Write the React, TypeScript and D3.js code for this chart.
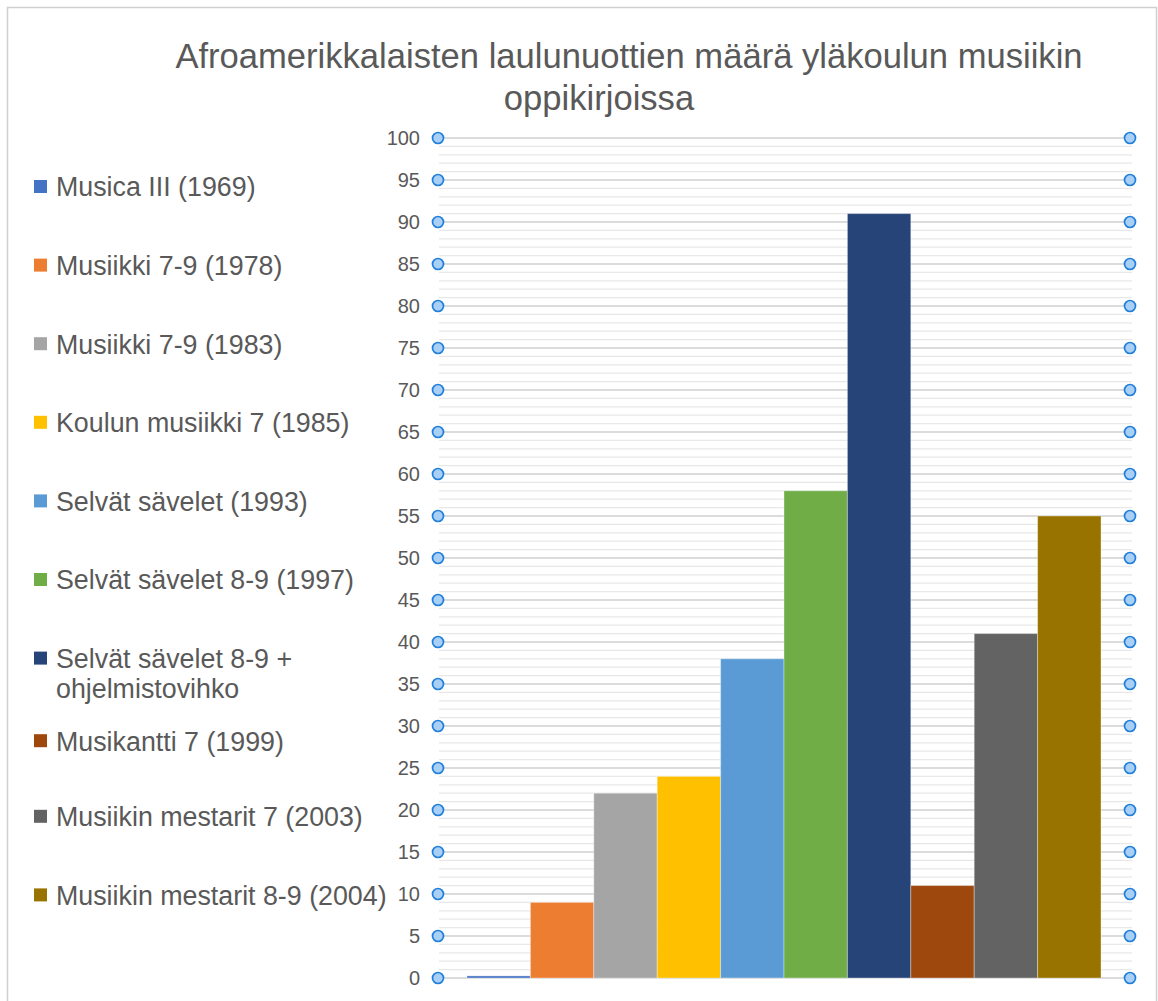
import * as d3 from "d3";

const books = [
  "Musica III (1969)",
  "Musiikki 7-9 (1978)",
  "Musiikki 7-9 (1983)",
  "Koulun musiikki 7 (1985)",
  "Selvät sävelet (1993)",
  "Selvät sävelet 8-9 (1997)",
  "Selvät sävelet 8-9 + ohjelmistovihko",
  "Musikantti 7 (1999)",
  "Musiikin mestarit 7 (2003)",
  "Musiikin mestarit 8-9 (2004)",
];
const counts = [0.25, 9, 22, 24, 38, 58, 91, 11, 41, 55];
const colors = [
  "#4472C4", "#ED7D31", "#A5A5A5", "#FFC000", "#5B9BD5",
  "#70AD47", "#264478", "#9E480E", "#636363", "#997300",
];
const legendLines = [
  ["Musica III (1969)"],
  ["Musiikki 7-9 (1978)"],
  ["Musiikki 7-9 (1983)"],
  ["Koulun musiikki 7 (1985)"],
  ["Selvät sävelet (1993)"],
  ["Selvät sävelet 8-9 (1997)"],
  ["Selvät sävelet 8-9 +", "ohjelmistovihko"],
  ["Musikantti 7 (1999)"],
  ["Musiikin mestarit 7 (2003)"],
  ["Musiikin mestarit 8-9 (2004)"],
];
const titleLines = [
  "Afroamerikkalaisten laulunuottien määrä yläkoulun musiikin",
  "oppikirjoissa",
];

const width = 1158;
const height = 1001;
const font = "'Liberation Sans', Arial, Helvetica, sans-serif";
const textColor = "#595959";

export default function App() {
  const y = d3.scaleLinear().domain([0, 100]).range([978, 138]);
  const x = d3.scaleBand<string>().domain(books).range([467, 1101]).paddingInner(0);
  const majorTicks = y.ticks(20);
  const minorTicks = d3.range(0, 101, 1).filter(v => v % 5 !== 0);
  // legend rows; the two-line entry pushes the following rows a little
  const legendY = (i: number) => 187 + i * 78.6 + (i > 6 ? 4 : 0) - (i > 7 ? 3 : 0);
  const gridLeft = 438;
  const gridRight = 1130;

  return (
    <svg width={width} height={height} style={{ position: "absolute", left: 0, top: 0 }} fontFamily={font}>
      <rect x={0} y={0} width={width} height={height} fill="#fff" />
      <rect x={7.5} y={7.5} width={1149} height={1100} fill="none" stroke="#d0d0d0" strokeWidth={1.5} />

      {titleLines.map((t, i) => (
        <text key={t} x={i === 0 ? 629 : 599} y={68 + i * 42} textAnchor="middle"
          fontSize={34.6} fill={textColor}>{t}</text>
      ))}

      {minorTicks.map(v => (
        <line key={"m" + v} x1={gridLeft + 1} x2={gridRight + 2} y1={y(v)} y2={y(v)}
          stroke="#e8e8e8" strokeWidth={1.3} />
      ))}
      {majorTicks.map(v => (
        <line key={"M" + v} x1={gridLeft} x2={gridRight} y1={y(v)} y2={y(v)}
          stroke="#d0d0d0" strokeWidth={1.5} />
      ))}

      {books.map((b, i) => (
        <rect key={b} x={x(b)} y={y(counts[i])} width={x.bandwidth()}
          height={y(0) - y(counts[i])} fill={colors[i]}
          stroke="#ffffff" strokeOpacity={0.35} strokeWidth={1} />
      ))}

      {majorTicks.map(v => (
        <g key={"t" + v}>
          <text x={420} y={y(v)} dy="0.35em" textAnchor="end" fontSize={20} fill={textColor}>{v}</text>
          <circle cx={gridLeft} cy={y(v)} r={5.5} fill="#a9cff5" stroke="#1f7fdb" strokeWidth={1.7} />
          <circle cx={gridRight} cy={y(v)} r={5.5} fill="#a9cff5" stroke="#1f7fdb" strokeWidth={1.7} />
        </g>
      ))}

      {legendLines.map((lines, i) => (
        <g key={i} transform={`translate(0, ${legendY(i)})`}>
          <rect x={34} y={-7} width={13} height={13} fill={colors[i]} />
          {lines.map((l, j) => (
            <text key={l} x={56} y={j * 30} dy="0.35em" fontSize={26.8} fill={textColor}>{l}</text>
          ))}
        </g>
      ))}
    </svg>
  );
}
